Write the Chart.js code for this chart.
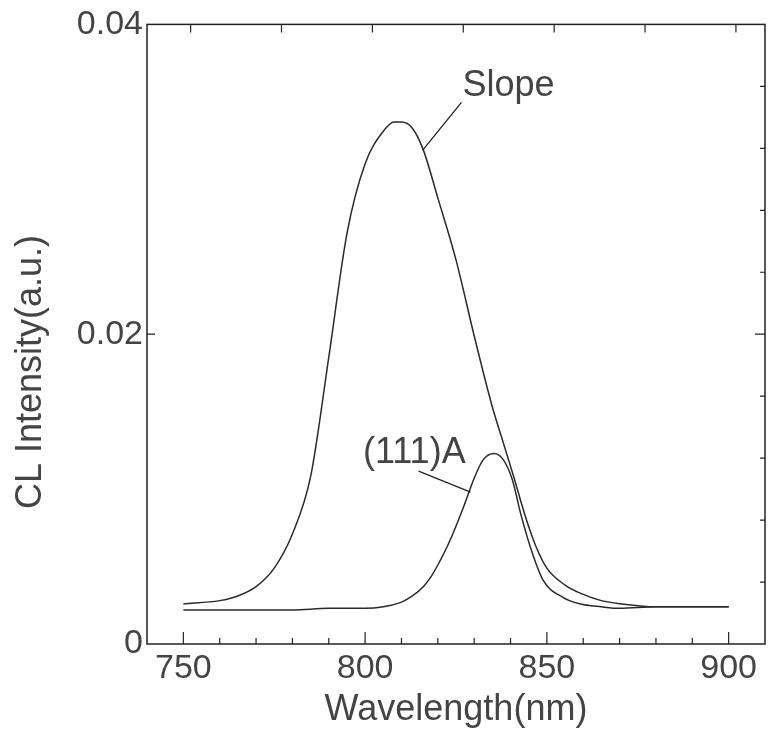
<!DOCTYPE html>
<html>
<head>
<meta charset="utf-8">
<script src="https://cdn.jsdelivr.net/npm/chart.js@4.4.1/dist/chart.umd.min.js"></script>
<style>
  html, body { margin: 0; padding: 0; background: #fff; }
</style>
</head>
<body>
<canvas id="grafica" width="768" height="735"></canvas>
<script>
// espectros CL
const slopeWavelength = [750, 760, 765, 770, 775, 780, 785, 790, 795, 800, 805, 808, 810, 813, 816, 820, 825, 830, 835, 838, 841, 844, 847, 850, 855, 860, 865, 870, 880, 890, 900];
const slopeIntensity  = [0.0026, 0.0028, 0.0031, 0.0037, 0.0049, 0.0071, 0.0108, 0.0185, 0.0265, 0.0310, 0.0331, 0.0337, 0.0337, 0.0333, 0.0319, 0.0288, 0.0248, 0.0199, 0.0153, 0.0130, 0.0107, 0.0083, 0.0063, 0.0049, 0.0038, 0.0032, 0.0028, 0.0026, 0.0024, 0.0024, 0.0024];

const a111Wavelength = [750, 760, 770, 780, 790, 800, 805, 810, 813, 816, 818, 820, 823, 827, 830, 832.5, 835.5, 838, 840.5, 842.7, 845.4, 849, 854.5, 859, 865, 870, 880, 890, 900];
const a111Intensity  = [0.0022, 0.0022, 0.0022, 0.0022, 0.0023, 0.0023, 0.0024, 0.0027, 0.0031, 0.0037, 0.0043, 0.0051, 0.0065, 0.0088, 0.0107, 0.0119, 0.0123, 0.0119, 0.0106, 0.0085, 0.0063, 0.0041, 0.0030, 0.0026, 0.0024, 0.0023, 0.0024, 0.0024, 0.0024];

const xLabels = [750, 800, 850, 900];
const yLabels = [0, 0.02, 0.04];

const FUENTE = '"Liberation Sans", Arial, sans-serif';
const TINTA = '#444';

const toPoints = (xs, ys) => xs.map((x, i) => ({ x: x, y: ys[i] }));

// marco, marcas hacia dentro, titulos y rotulos
const marco = {
   id: 'marco',
   afterDraw(chart) {
      const { ctx, chartArea: a, scales: { x, y } } = chart;
      ctx.save();
      ctx.strokeStyle = '#222';
      ctx.lineWidth = 1.5;
      ctx.strokeRect(a.left, a.top, a.right - a.left, a.bottom - a.top);

      ctx.lineWidth = 1.2;
      ctx.beginPath();
      // abajo: cada 10 nm, mayores cada 50
      for (let v = 750; v <= 900; v += 10) {
         const px = x.getPixelForValue(v);
         const len = v % 50 === 0 ? 12 : 6;
         ctx.moveTo(px, a.bottom);
         ctx.lineTo(px, a.bottom - len);
      }
      // arriba: cada 25 nm
      for (let v = 752; v <= 905; v += 25) {
         const px = x.getPixelForValue(v);
         ctx.moveTo(px, a.top);
         ctx.lineTo(px, a.top + 8);
      }
      // derecha: cada 0.004
      for (let k = 1; k < 10; k++) {
         const py = y.getPixelForValue(k * 0.004);
         ctx.moveTo(a.right, py);
         ctx.lineTo(a.right - (k === 5 ? 10 : 5), py);
      }
      // izquierda: 0.02
      const p2 = y.getPixelForValue(0.02);
      ctx.moveTo(a.left, p2);
      ctx.lineTo(a.left + 8, p2);
      ctx.stroke();

      ctx.fillStyle = TINTA;
      ctx.font = '36px ' + FUENTE;
      ctx.textAlign = 'center';
      ctx.textBaseline = 'alphabetic';
      ctx.fillText('Wavelength(nm)', (a.left + a.right) / 2, 720);

      ctx.save();
      ctx.translate(31, 372);
      ctx.rotate(-Math.PI / 2);
      ctx.textBaseline = 'middle';
      ctx.fillText('CL Intensity(a.u.)', 0, 0);
      ctx.restore();

      // rotulos de las curvas
      ctx.textAlign = 'left';
      ctx.fillText('Slope', x.getPixelForValue(826.8), y.getPixelForValue(0.0354));
      ctx.fillText('(111)A', x.getPixelForValue(799.4), y.getPixelForValue(0.01168));

      ctx.strokeStyle = '#222';
      ctx.lineWidth = 1.3;
      ctx.beginPath();
      ctx.moveTo(x.getPixelForValue(826.5), y.getPixelForValue(0.03497));
      ctx.lineTo(x.getPixelForValue(815.8), y.getPixelForValue(0.03187));
      ctx.moveTo(x.getPixelForValue(814.7), y.getPixelForValue(0.01116));
      ctx.lineTo(x.getPixelForValue(829.0), y.getPixelForValue(0.00981));
      ctx.stroke();
      ctx.restore();
   }
};

const ctx = document.getElementById('grafica').getContext('2d');

const chart = new Chart(ctx, {
   type: 'line',
   data: {
      datasets: [{
         label: 'Slope',
         data: toPoints(slopeWavelength, slopeIntensity),
         borderColor: '#2a2a2a',
         borderWidth: 1.5,
         pointRadius: 0,
         cubicInterpolationMode: 'monotone',
         fill: false
      }, {
         label: '(111)A',
         data: toPoints(a111Wavelength, a111Intensity),
         borderColor: '#2a2a2a',
         borderWidth: 1.5,
         pointRadius: 0,
         cubicInterpolationMode: 'monotone',
         fill: false
      }]
   },
   options: {
      responsive: false,
      animation: false,
      layout: { padding: { top: 24, right: 3, left: 0, bottom: 0 } },
      plugins: {
         legend: { display: false },
         tooltip: { enabled: false }
      },
      scales: {
         x: {
            type: 'linear',
            min: 740,
            max: 910,
            grid: { display: false, drawTicks: false, tickLength: 0 },
            border: { display: false },
            afterFit: s => { s.height = 91; },
            afterBuildTicks: s => { s.ticks = xLabels.map(v => ({ value: v })); },
            ticks: {
               color: TINTA,
               padding: 4,
               maxRotation: 0,
               autoSkip: false,
               font: { family: FUENTE, size: 34 }
            }
         },
         y: {
            min: 0,
            max: 0.04,
            grid: { display: false, drawTicks: false, tickLength: 0 },
            border: { display: false },
            afterFit: s => { s.width = 147; },
            afterBuildTicks: s => { s.ticks = yLabels.map(v => ({ value: v })); },
            ticks: {
               color: TINTA,
               padding: 4,
               font: { family: FUENTE, size: 34 },
               callback: v => v === 0 ? '0' : v.toFixed(2)
            }
         }
      }
   },
   plugins: [marco]
});
</script>
</body>
</html>
